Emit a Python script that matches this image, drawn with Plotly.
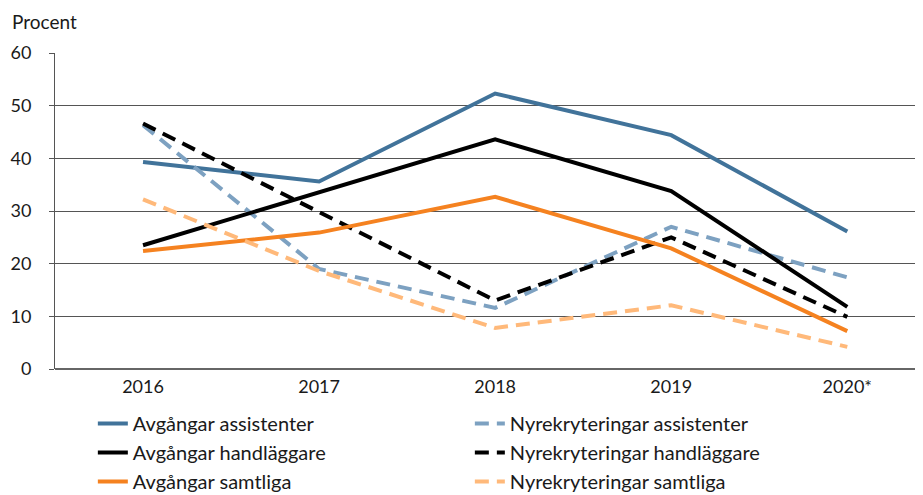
import plotly.graph_objects as go

years = ["2016", "2017", "2018", "2019", "2020*"]

avg_assistenter = [39.3, 35.6, 52.3, 44.4, 26.1]
nyrek_assistenter = [46.3, 19.0, 11.6, 27.0, 17.4]
avg_handlaggare = [23.5, 33.6, 43.6, 33.8, 11.8]
nyrek_handlaggare = [46.6, 29.8, 13.0, 25.0, 9.9]
avg_samtliga = [22.4, 25.9, 32.7, 22.9, 7.2]
nyrek_samtliga = [32.2, 18.6, 7.8, 12.1, 4.2]

y_ticks = [0, 10, 20, 30, 40, 50, 60]

FONT = "Lato, 'Open Sans', Arial, sans-serif"
DASH = "14px,8px"

series = [
    ("Avgångar assistenter", avg_assistenter, "#41739A", "solid"),
    ("Nyrekryteringar assistenter", nyrek_assistenter, "#7DA1C1", DASH),
    ("Avgångar handläggare", avg_handlaggare, "#000000", "solid"),
    ("Nyrekryteringar handläggare", nyrek_handlaggare, "#000000", DASH),
    ("Avgångar samtliga", avg_samtliga, "#F58220", "solid"),
    ("Nyrekryteringar samtliga", nyrek_samtliga, "#FFB97A", DASH),
]

fig = go.Figure()
for name, vals, color, dash in series:
    fig.add_trace(go.Scatter(
        x=years, y=vals, name=name, mode="lines",
        line=dict(color=color, width=4, dash=dash),
    ))

# the page body has an 8px default margin, so the figure is offset by 8px
fig.update_layout(
    width=923, height=495,
    margin=dict(l=47, r=8, t=45, b=134, autoexpand=False),
    paper_bgcolor="white", plot_bgcolor="white",
    font=dict(family=FONT, size=18, color="#1a1a1a"),
    showlegend=True,
    legend=dict(
        orientation="h", x=0.0436, xanchor="left", y=-0.111, yanchor="top",
        entrywidth=332, entrywidthmode="pixels",
        font=dict(size=20, family=FONT), itemwidth=30,
        traceorder="normal",
    ),
    xaxis=dict(
        type="category", range=[-0.5, 4.43], automargin=False,
        showgrid=False, showline=False, zeroline=False,
        ticks="", tickfont=dict(size=18), ticklabelstandoff=5,
    ),
    yaxis=dict(
        range=[0, 60], tickvals=y_ticks, ticktext=[str(v) for v in y_ticks],
        automargin=False,
        showgrid=True, gridcolor="#555555", gridwidth=1,
        showline=True, linecolor="#555555", linewidth=1,
        zeroline=True, zerolinecolor="#666666", zerolinewidth=2,
        ticks="outside", ticklen=5, tickcolor="#555555",
        ticklabelstandoff=14, tickfont=dict(size=18),
    ),
    annotations=[dict(
        text="Procent", xref="paper", yref="paper", x=-0.052, y=1.057,
        xanchor="left", yanchor="bottom", showarrow=False,
        font=dict(size=19, family=FONT),
    )],
)

fig.write_html("out.html")
